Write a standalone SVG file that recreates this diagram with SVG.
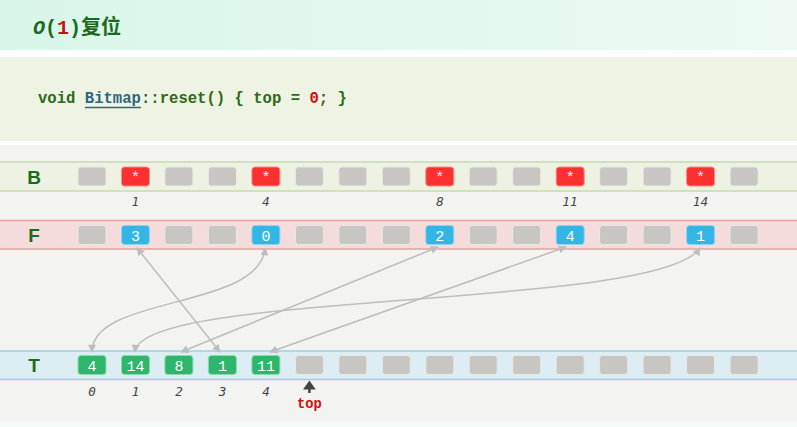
<svg xmlns="http://www.w3.org/2000/svg" width="797" height="427" viewBox="0 0 797 427">
<defs>
<linearGradient id="tg" x1="0" y1="0" x2="1" y2="0">
<stop offset="0" stop-color="#d9f6ea"/>
<stop offset="1" stop-color="#ecfaf3"/>
</linearGradient>
<marker id="ah" viewBox="0 0 10 10" refX="9" refY="5" markerWidth="9" markerHeight="8" markerUnits="userSpaceOnUse" orient="auto-start-reverse">
<path d="M0,0 L10,5 L0,10 z" fill="#bdbdbd"/>
</marker>
<style>
.g{fill:#c7c6c3;stroke:#e9e9e7;stroke-width:1}
.r{fill:#fb3030;stroke:#f98a8a;stroke-width:1}
.b{fill:#33b6e6;stroke:#8fd6f2;stroke-width:1}
.n{fill:#2db66c;stroke:#8ddbb0;stroke-width:1}
.ct{font-family:"Liberation Mono","DejaVu Sans Mono",monospace;font-size:15px;fill:#ffffff;text-anchor:middle}
.lbl{font-family:"Liberation Sans","DejaVu Sans",sans-serif;font-weight:bold;font-size:19px;fill:#1c6b1c;text-anchor:middle}
.idx{font-family:"DejaVu Sans","Liberation Sans",sans-serif;font-style:italic;font-size:12px;fill:#444444;text-anchor:middle}
.idm{font-family:"DejaVu Sans Mono","Liberation Mono",monospace;font-style:italic;font-size:12.5px;fill:#444444;text-anchor:middle}
.con{fill:none;stroke:#bdbdbd;stroke-width:1.5;marker-start:url(#ah);marker-end:url(#ah)}
</style>
</defs>

<!-- backgrounds -->
<rect x="0" y="0" width="797" height="427" fill="#f3f3f2"/>
<rect x="0" y="0" width="797" height="50" fill="url(#tg)"/>
<rect x="0" y="50" width="797" height="7" fill="#ffffff"/>
<rect x="0" y="57" width="797" height="84" fill="#eef3e3"/>
<rect x="0" y="141" width="797" height="4" fill="#ffffff"/>
<rect x="0" y="421" width="797" height="6" fill="#f5fbf8"/>

<g id="title">
<text x="33" y="34" font-family="'Liberation Mono','Noto Sans CJK SC',monospace" font-weight="bold" font-size="20" fill="#1b6a1b"><tspan font-style="italic">O</tspan>(<tspan fill="#cc1111">1</tspan>)复位</text>
</g>

<g id="code">
<text x="38" y="103" font-family="'Liberation Mono','DejaVu Sans Mono',monospace" font-weight="bold" font-size="15.6" fill="#2b6a14">void <tspan fill="#2f6680">Bitmap</tspan>::reset() { top = <tspan fill="#cc1111">0</tspan>; }</text>
<line x1="85" y1="107.5" x2="141" y2="107.5" stroke="#2f6680" stroke-width="1.5"/>
</g>

<g id="rowB">
<rect x="0" y="162" width="797" height="29" fill="#eef2e2"/>
<line x1="0" y1="162" x2="797" y2="162" stroke="#c6dca6" stroke-width="1.5"/>
<line x1="0" y1="191" x2="797" y2="191" stroke="#c6dca6" stroke-width="1.5"/>
<text class="lbl" x="34" y="184">B</text>
<rect class="g" x="78" y="167" width="28" height="19" rx="3"/>
<rect class="r" x="121.5" y="167" width="28" height="19" rx="3"/>
<rect class="g" x="164.9" y="167" width="28" height="19" rx="3"/>
<rect class="g" x="208.4" y="167" width="28" height="19" rx="3"/>
<rect class="r" x="251.9" y="167" width="28" height="19" rx="3"/>
<rect class="g" x="295.4" y="167" width="28" height="19" rx="3"/>
<rect class="g" x="338.8" y="167" width="28" height="19" rx="3"/>
<rect class="g" x="382.3" y="167" width="28" height="19" rx="3"/>
<rect class="r" x="425.8" y="167" width="28" height="19" rx="3"/>
<rect class="g" x="469.2" y="167" width="28" height="19" rx="3"/>
<rect class="g" x="512.7" y="167" width="28" height="19" rx="3"/>
<rect class="r" x="556.2" y="167" width="28" height="19" rx="3"/>
<rect class="g" x="599.6" y="167" width="28" height="19" rx="3"/>
<rect class="g" x="643.1" y="167" width="28" height="19" rx="3"/>
<rect class="r" x="686.6" y="167" width="28" height="19" rx="3"/>
<rect class="g" x="730.1" y="167" width="28" height="19" rx="3"/>
<text class="ct" x="135.5" y="182">*</text>
<text class="ct" x="265.9" y="182">*</text>
<text class="ct" x="439.8" y="182">*</text>
<text class="ct" x="570.2" y="182">*</text>
<text class="ct" x="700.6" y="182">*</text>
<text class="idx" x="135.5" y="206">1</text>
<text class="idx" x="265.9" y="206">4</text>
<text class="idx" x="439.8" y="206">8</text>
<text class="idx" x="570.2" y="206">11</text>
<text class="idx" x="700.6" y="206">14</text>
</g>

<g id="rowF">
<rect x="0" y="220.5" width="797" height="28.5" fill="#f5dcdc"/>
<line x1="0" y1="220.5" x2="797" y2="220.5" stroke="#e0a3a3" stroke-width="1.5"/>
<line x1="0" y1="249" x2="797" y2="249" stroke="#e0a3a3" stroke-width="1.5"/>
<text class="lbl" x="34" y="242">F</text>
<rect class="g" x="78" y="225.5" width="28" height="19" rx="3"/>
<rect class="b" x="121.5" y="225.5" width="28" height="19" rx="3"/>
<rect class="g" x="164.9" y="225.5" width="28" height="19" rx="3"/>
<rect class="g" x="208.4" y="225.5" width="28" height="19" rx="3"/>
<rect class="b" x="251.9" y="225.5" width="28" height="19" rx="3"/>
<rect class="g" x="295.4" y="225.5" width="28" height="19" rx="3"/>
<rect class="g" x="338.8" y="225.5" width="28" height="19" rx="3"/>
<rect class="g" x="382.3" y="225.5" width="28" height="19" rx="3"/>
<rect class="b" x="425.8" y="225.5" width="28" height="19" rx="3"/>
<rect class="g" x="469.2" y="225.5" width="28" height="19" rx="3"/>
<rect class="g" x="512.7" y="225.5" width="28" height="19" rx="3"/>
<rect class="b" x="556.2" y="225.5" width="28" height="19" rx="3"/>
<rect class="g" x="599.6" y="225.5" width="28" height="19" rx="3"/>
<rect class="g" x="643.1" y="225.5" width="28" height="19" rx="3"/>
<rect class="b" x="686.6" y="225.5" width="28" height="19" rx="3"/>
<rect class="g" x="730.1" y="225.5" width="28" height="19" rx="3"/>
<text class="ct" x="135.5" y="240.5">3</text>
<text class="ct" x="265.9" y="240.5">0</text>
<text class="ct" x="439.8" y="240.5">2</text>
<text class="ct" x="570.2" y="240.5">4</text>
<text class="ct" x="700.6" y="240.5">1</text>
</g>

<g id="rowT">
<rect x="0" y="351" width="797" height="28.5" fill="#dcedf3"/>
<line x1="0" y1="351" x2="797" y2="351" stroke="#9fd1e2" stroke-width="1.5"/>
<line x1="0" y1="379.5" x2="797" y2="379.5" stroke="#9fd1e2" stroke-width="1.5"/>
<text class="lbl" x="34" y="372">T</text>
<rect class="n" x="78" y="355.5" width="28" height="19" rx="3"/>
<rect class="n" x="121.5" y="355.5" width="28" height="19" rx="3"/>
<rect class="n" x="164.9" y="355.5" width="28" height="19" rx="3"/>
<rect class="n" x="208.4" y="355.5" width="28" height="19" rx="3"/>
<rect class="n" x="251.9" y="355.5" width="28" height="19" rx="3"/>
<rect class="g" x="295.4" y="355.5" width="28" height="19" rx="3"/>
<rect class="g" x="338.8" y="355.5" width="28" height="19" rx="3"/>
<rect class="g" x="382.3" y="355.5" width="28" height="19" rx="3"/>
<rect class="g" x="425.8" y="355.5" width="28" height="19" rx="3"/>
<rect class="g" x="469.2" y="355.5" width="28" height="19" rx="3"/>
<rect class="g" x="512.7" y="355.5" width="28" height="19" rx="3"/>
<rect class="g" x="556.2" y="355.5" width="28" height="19" rx="3"/>
<rect class="g" x="599.6" y="355.5" width="28" height="19" rx="3"/>
<rect class="g" x="643.1" y="355.5" width="28" height="19" rx="3"/>
<rect class="g" x="686.6" y="355.5" width="28" height="19" rx="3"/>
<rect class="g" x="730.1" y="355.5" width="28" height="19" rx="3"/>
<text class="ct" x="92" y="370.5">4</text>
<text class="ct" x="135.5" y="370.5">14</text>
<text class="ct" x="178.9" y="370.5">8</text>
<text class="ct" x="222.4" y="370.5">1</text>
<text class="ct" x="265.9" y="370.5">11</text>
<text class="idm" x="92" y="396">0</text>
<text class="idm" x="135.5" y="396">1</text>
<text class="idm" x="178.9" y="396">2</text>
<text class="idm" x="222.4" y="396">3</text>
<text class="idm" x="265.9" y="396">4</text>
</g>

<g id="topPointer">
<path d="M309.4,380.5 L315.8,389.5 L303,389.5 Z" fill="#444444"/>
<rect x="308.2" y="389" width="2.4" height="4" fill="#444444"/>
<text x="309.4" y="408" font-family="'Liberation Mono','DejaVu Sans Mono',monospace" font-weight="bold" font-size="13.8" fill="#cc1111" text-anchor="middle">top</text>
</g>

<g id="connectors">
<path class="con" d="M137,248 L220,352"/>
<path class="con" d="M265,248 C260,310 92,295 92,352"/>
<path class="con" d="M438,247 L181,352"/>
<path class="con" d="M566,247 L270,352"/>
<path class="con" d="M700,248 C660,310 140,290 135,352"/>
</g>
</svg>
